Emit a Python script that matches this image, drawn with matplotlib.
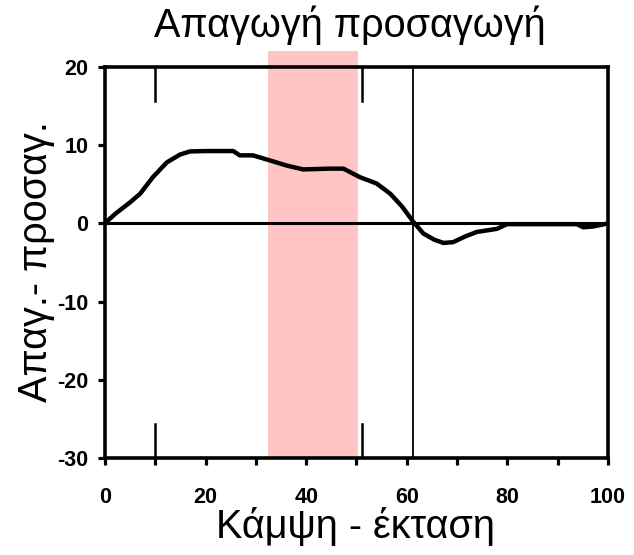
import matplotlib
matplotlib.use("Agg")
import matplotlib.pyplot as plt
from matplotlib.patches import Rectangle

plt.rcParams['font.family'] = ['Liberation Sans', 'DejaVu Sans']
plt.rcParams['axes.unicode_minus'] = False

# curve
cycle = [0.3, 2.0, 5.0, 7.0, 9.5, 12.3, 14.9, 16.9, 20.0, 25.5, 26.8, 29.4,
         32.8, 36.1, 39.4, 44.7, 47.4, 50.7, 54.0, 56.7, 59.0, 61.3, 63.3,
         65.5, 67.3, 69.2, 71.5, 73.9, 77.9, 79.9, 85.0, 93.8, 95.1, 97.0, 100.0]
angle = [0.2, 1.2, 2.7, 3.8, 5.9, 7.8, 8.8, 9.2, 9.25, 9.25, 8.7, 8.7,
         8.05, 7.4, 6.9, 7.0, 7.0, 5.9, 5.1, 3.8, 2.2, 0.2, -1.3,
         -2.1, -2.5, -2.4, -1.7, -1.1, -0.7, -0.1, -0.1, -0.1, -0.5, -0.4, 0.0]

span = (32.4, 50.3)      # shaded region (runs a little above the frame)
span_top = 22.1
short_marks = [10, 51]   # short vertical marks at top and bottom
toe_off = 61.3           # full-height vertical line

fig = plt.figure(figsize=(6.34, 5.55), dpi=100)
ax = fig.add_axes([0.1656, 0.1748, 0.7934, 0.7045])

ax.add_patch(Rectangle((span[0], -30), span[1] - span[0], span_top + 30,
                       facecolor='#ffc4c4', lw=0, zorder=0, clip_on=False))
ax.axhline(0, color='black', lw=2.2, zorder=2)
ax.axvline(toe_off, color='black', lw=1.3, zorder=2)
for x in short_marks:
    ax.plot([x, x], [20, 15.6], color='black', lw=1.8, zorder=2)
    ax.plot([x, x], [-30, -25.6], color='black', lw=1.8, zorder=2)

ax.plot(cycle, angle, color='black', lw=3.2, zorder=3)

ax.set_xlim(0, 100)
ax.set_ylim(-30, 20)
ax.set_xticks(range(0, 101, 10))
ax.set_xticklabels([str(v) if v % 20 == 0 else '' for v in range(0, 101, 10)])
ax.set_yticks(range(-30, 21, 10))

for s in ax.spines.values():
    s.set_linewidth(2.6)
ax.tick_params(axis='x', direction='out', length=5, width=2.3, pad=16)
ax.tick_params(axis='y', direction='out', length=5, width=2.3, pad=7)
for lab in ax.get_xticklabels() + ax.get_yticklabels():
    lab.set_fontsize(15.5)
    lab.set_fontweight('bold')

fig.text(0.552, 0.933, 'Απαγωγή προσαγωγή', fontsize=28.5,
         ha='center', va='baseline')
fig.text(0.5615, 0.031, 'Κάμψη - έκταση', fontsize=28.5,
         ha='center', va='baseline')
fig.text(0.074, 0.528, 'Απαγ.- προσαγ.', fontsize=28.5, ha='center',
         va='baseline', rotation=90, rotation_mode='anchor')

fig.savefig('out.png', dpi=100)
